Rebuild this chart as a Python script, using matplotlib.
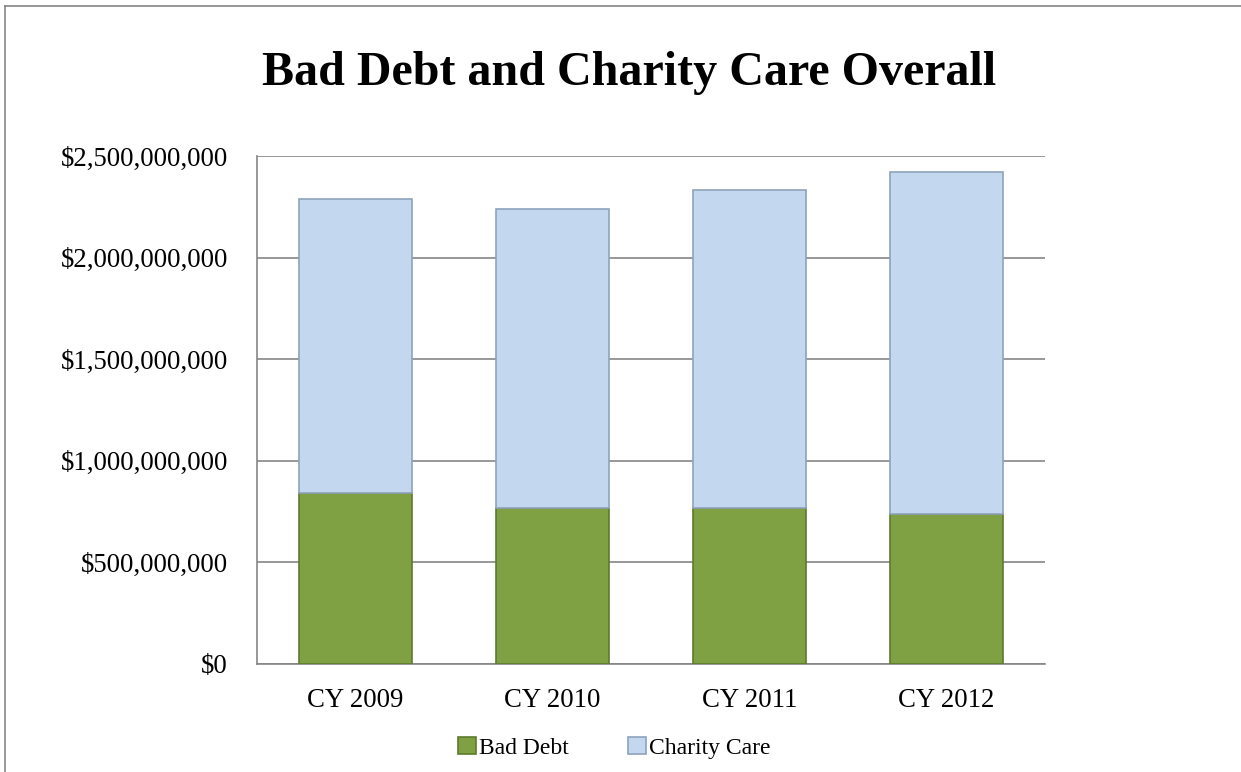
"""Stacked bar chart: Bad Debt and Charity Care Overall."""

import matplotlib

matplotlib.use("Agg")
import matplotlib.pyplot as plt
from matplotlib.lines import Line2D
from matplotlib.ticker import FuncFormatter

years = ["CY 2009", "CY 2010", "CY 2011", "CY 2012"]
bad_debt = [840e6, 769e6, 766e6, 738e6]
charity_care = [1450e6, 1472e6, 1567e6, 1682e6]

GREEN = "#80a044"
BLUE = "#c3d8ef"

plt.rcParams["font.family"] = ["Liberation Serif", "DejaVu Serif"]

fig = plt.figure(figsize=(12.41, 7.72), dpi=100)
ax = fig.add_axes([0.2071, 0.1399, 0.6349, 0.6581])

x = range(len(years))
width = 0.57
ax.bar(x, bad_debt, width, color=GREEN, edgecolor="#5e7a2e", linewidth=1.2,
       label="Bad Debt", zorder=3)
ax.bar(x, charity_care, width, bottom=bad_debt, color=BLUE, edgecolor="#8fa3bb",
       linewidth=1.2, label="Charity Care", zorder=3)

ax.set_xlim(-0.5, len(years) - 0.5)
ax.set_ylim(0, 2.5e9)
ax.set_yticks([0, 5e8, 1e9, 1.5e9, 2e9, 2.5e9])
ax.yaxis.set_major_formatter(FuncFormatter(lambda v, _: f"${v:,.0f}"))
ax.set_xticks(list(x))
ax.set_xticklabels(years)
ax.tick_params(axis="both", labelsize=19.3, length=0, colors="black")
ax.tick_params(axis="y", pad=21)
ax.tick_params(axis="x", pad=17)
ax.grid(axis="y", color="#868686", linewidth=1.2, zorder=0)
for side in ("top", "right"):
    ax.spines[side].set_visible(False)
for side in ("left", "bottom"):
    ax.spines[side].set_color("#868686")
    ax.spines[side].set_linewidth(1.2)

fig.text(0.507, 0.905, "Bad Debt and Charity Care Overall", ha="center",
         va="center", fontsize=34.6, fontweight="bold")

handles, labels = ax.get_legend_handles_labels()
fig.legend(handles, labels, loc="center", bbox_to_anchor=(0.495, 0.031),
           ncol=2, frameon=False, fontsize=17, handlelength=0.75,
           handleheight=0.75, handletextpad=0.15, columnspacing=2.5)

# outer chart border (top and left edges visible in the crop)
fig.add_artist(Line2D([5 / 1241, 5 / 1241], [0, 1 - 6 / 772],
                      transform=fig.transFigure, color="#868686", linewidth=1.2))
fig.add_artist(Line2D([5 / 1241, 1], [1 - 6 / 772, 1 - 6 / 772],
                      transform=fig.transFigure, color="#868686", linewidth=1.2))

fig.savefig("out.png", dpi=100)
